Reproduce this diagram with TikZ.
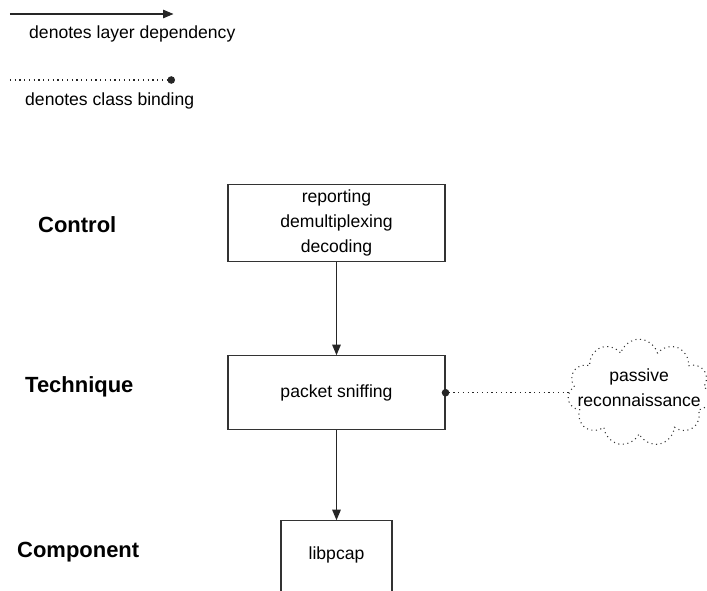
\documentclass[tikz,border=0pt]{standalone}
\usepackage{fontspec}
\setmainfont{Liberation Sans}
\usepackage{xcolor}
\usepackage{tikz}
\usetikzlibrary{arrows.meta,positioning,shapes.symbols}

\begin{document}
\begin{tikzpicture}[
  every node/.style={font=\fontsize{10}{14}\selectfont},
  layer/.style={draw=black!80, line width=0.6pt, minimum width=4.34cm, minimum height=1.52cm, align=center},
  tier/.style={anchor=west, font=\fontsize{12.5}{15}\selectfont\bfseries},
  note/.style={anchor=west},
  dep/.style={-{Triangle[length=2.1mm, width=1.7mm]}, line width=0.7pt, black!85},
  bind/.style={line width=0.7pt, dotted, black!85}
]
\useasboundingbox (0,0) rectangle (14.14,-11.8);

% legend
\coordinate (depA) at (0.2,-0.28);
\coordinate (depB) at (3.47,-0.28);
\draw[dep] (depA) -- (depB);
\node[note] (depnote) at (0.46,-0.68) {denotes layer dependency};
\coordinate (bindA) at (0.2,-1.6);
\coordinate (bindB) at (3.5,-1.6);
\draw[bind, -{Circle[length=1.5mm]}] (bindA) -- (bindB);
\node[note] (bindnote) at (0.38,-2.02) {denotes class binding};

% layers
\node[layer] (ctrl) at (6.73,-4.46) {reporting\\demultiplexing\\decoding};
\node[layer, below=1.86cm of ctrl, minimum height=1.48cm] (tech) {packet sniffing};
\node[layer, below=1.8cm of tech, minimum width=2.22cm, minimum height=0pt,
      inner ysep=0.5cm, text height=0.28cm, text depth=1.3cm] (comp) {libpcap};

\node[tier] (ctrllbl) at (0.64,-4.5) {Control};
\node[tier] (techlbl) at (0.38,-7.74) {Technique};
\node[tier] (complbl) at (0.22,-11.04) {Component};

% class binding
\node[cloud, draw=black!80, dotted, line width=0.6pt, cloud puffs=11, cloud ignores aspect,
      minimum width=2.86cm, minimum height=2.14cm, right=2.46cm of tech,
      label={[align=center, yshift=0.1cm]center:passive\\reconnaissance}] (recon) {};

\draw[dep] (ctrl) -- (tech);
\draw[dep] (tech) -- (comp);
\draw[bind, {Circle[length=1.5mm]}-, shorten <=-0.75mm] (tech) -- (recon);
\end{tikzpicture}
\end{document}
